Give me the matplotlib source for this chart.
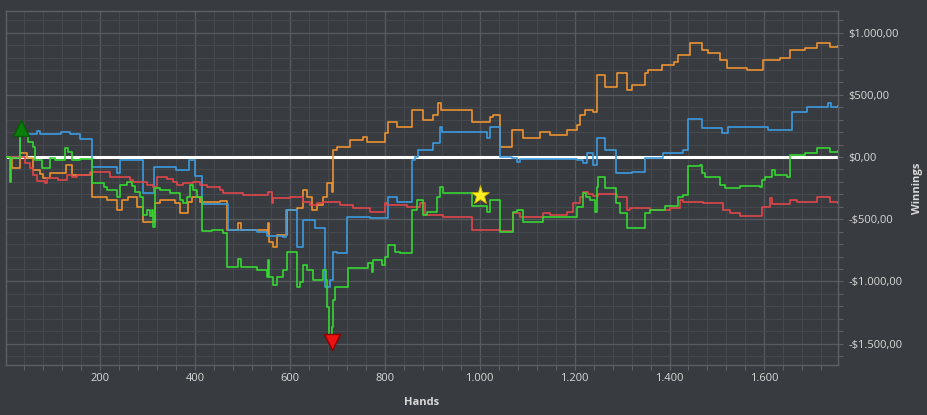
import matplotlib
matplotlib.use("Agg")
import matplotlib.pyplot as plt
from matplotlib.ticker import FuncFormatter, MultipleLocator

# =========================================
# DATA (hands, winnings)
# =========================================

blue_hands = [1, 31, 67, 74, 118, 137, 158, 183, 235, 243, 290, 313, 361, 387, 400,
              414, 468, 470, 530, 552, 585, 592, 615, 628, 653, 674, 685, 691, 699,
              720, 769, 807, 826, 858, 864, 870, 902, 917, 921, 1011, 1016, 1022,
              1043, 1068, 1079, 1085, 1205, 1218, 1226, 1239, 1247, 1264, 1287,
              1321, 1349, 1386, 1429, 1439, 1469, 1511, 1524, 1608, 1658, 1690,
              1734, 1740, 1755]
blue_win = [0, 185, 209, 185, 203, 185, 145, -80, -129, -24, -290, -80, -105, -24, -153,
            -378, -378, -587, -600, -635, -640, -426, -724, -507, -571, -1045, -989, -764,
            -772, -482, -490, -322, -362, -24, 0, 56, 113, 241, 201, 201, 153, 241,
            0, -8, -40, -16, -24, -48, 32, -64, 153, 56, -129,
            -121, -8, 32, 56, 305, 233, 193, 241, 217, 362, 402,
            434, 402, 410]

orange_hands = [1, 14, 31, 46, 58, 73, 80, 95, 128, 141, 179, 183, 215, 236, 246, 259,
                278, 291, 316, 326, 358, 368, 385, 393, 410, 453, 468, 491, 497, 552,
                554, 556, 565, 573, 594, 615, 628, 636, 647, 657, 670, 678, 689, 691,
                699, 727, 754, 763, 801, 807, 826, 858, 881, 902, 912, 919, 984, 1022,
                1028, 1043, 1068, 1091, 1127, 1148, 1184, 1205, 1212, 1222, 1239,
                1247, 1264, 1290, 1311, 1321, 1349, 1355, 1384, 1410, 1418, 1443,
                1469, 1481, 1507, 1521, 1564, 1597, 1633, 1654, 1686, 1711, 1738, 1755]
orange_win = [0, -88, 32, -8, -105, -137, -169, -129, -64, -145, -129, -322, -346, -426,
              -346, -322, -402, -523, -370, -346, -370, -450, -362, -322, -362, -354,
              -587, -531, -587, -611, -531, -683, -724, -627, -426, -410, -265, -322,
              -426, -386, -322, -209, -281, 56, 80, 137, 161, 121, 193, 281, 241, 378,
              297, 338, 434, 378, 281, 322, 338, 80, 217, 153, 201, 177, 217, 257,
              338, 378, 362, 659, 563, 675, 539, 579, 675, 699, 740, 764, 820, 917,
              860, 836, 780, 716, 699, 780, 796, 860, 876, 917, 884, 892]

green_hands = [1, 10, 12, 31, 41, 48, 58, 62, 77, 95, 105, 126, 133, 141, 158, 183, 208,
               215, 236, 242, 257, 267, 274, 284, 291, 299, 305, 310, 312, 316, 326,
               348, 369, 375, 383, 390, 396, 404, 415, 436, 459, 468, 491, 497, 531,
               552, 554, 556, 565, 573, 586, 594, 615, 622, 628, 636, 649, 670, 676,
               678, 683, 689, 691, 695, 723, 765, 773, 775, 794, 801, 807, 822, 832,
               858, 868, 881, 889, 910, 917, 923, 984, 1016, 1022, 1043, 1070, 1079,
               1091, 1133, 1169, 1205, 1218, 1224, 1232, 1243, 1247, 1249, 1264,
               1287, 1296, 1311, 1349, 1359, 1391, 1418, 1429, 1439, 1464, 1469,
               1475, 1507, 1517, 1549, 1591, 1595, 1601, 1616, 1622, 1648, 1654,
               1686, 1711, 1738, 1755]
green_win = [0, -201, -8, 185, 169, 121, 80, -24, -88, -8, -24, 72, 40, -24, -16, -209,
             -241, -265, -322, -225, -201, -233, -281, -322, -466, -426, -474, -426,
             -563, -249, -265, -289, -346, -370, -322, -225, -265, -322, -595, -587,
             -611, -884, -820, -884, -909, -965, -828, -965, -1029, -965, -909, -764,
             -1045, -1005, -868, -909, -989, -909, -989, -1206, -1447, -1367, -1150,
             -1045, -892, -852, -925, -828, -868, -804, -708, -764, -772, -426, -346,
             -466, -442, -322, -241, -289, -394, -442, -346, -603, -442, -426, -523,
             -482, -482, -402, -289, -322, -346, -442, -241, -161, -249, -370, -450,
             -571, -450, -426, -394, -322, -305, -72, -64, -129, -161, -225, -249,
             -233, -241, -185, -161, -105, -145, -161, 16, 32, 72, 40, 48]

red_hands = [1, 31, 41, 52, 58, 67, 84, 88, 111, 130, 141, 151, 179, 221, 263, 270, 299,
             312, 320, 341, 354, 362, 375, 396, 411, 425, 453, 459, 501, 554, 563, 565,
             600, 628, 642, 657, 670, 706, 733, 769, 801, 805, 847, 874, 885, 923, 984,
             1043, 1070, 1085, 1133, 1148, 1184, 1197, 1212, 1218, 1228, 1239, 1249,
             1290, 1311, 1317, 1359, 1401, 1422, 1429, 1471, 1513, 1528, 1549, 1595,
             1612, 1616, 1654, 1669, 1711, 1738, 1755]
red_win = [0, 0, -48, -88, -145, -193, -209, -169, -185, -145, -161, -145, -121, -161,
           -185, -201, -225, -241, -161, -177, -201, -225, -209, -201, -225, -241, -265,
           -289, -305, -281, -370, -330, -322, -362, -386, -370, -362, -386, -410, -442,
           -370, -386, -402, -370, -466, -482, -587, -595, -450, -482, -450, -466, -442,
           -370, -322, -281, -297, -314, -297, -322, -426, -410, -426, -410, -346, -362,
           -370, -426, -450, -474, -402, -330, -378, -346, -362, -322, -362, -370]

# markers: (hands, winnings)
best_mark = (33, 233)
worst_mark = (689, -1485)
star_mark = (1001, -306)

# =========================================
# STYLE
# =========================================

bg = "#383b3f"
grid_minor = "#45484c"
grid_major = "#56595d"
text_col = "#d9d9d9"

plt.rcParams["font.family"] = ["Open Sans", "DejaVu Sans"]

fig = plt.figure(figsize=(9.28, 4.15), dpi=100, facecolor=bg)
ax = fig.add_axes([0.0065, 0.1205, 0.8965, 0.853])
ax.set_facecolor(bg)

# =========================================
# LINES
# =========================================

ax.axhline(0, color="white", lw=2.2, zorder=2)

ax.plot(orange_hands, orange_win, drawstyle="steps-post", color="#eb922f", lw=1.2, zorder=3)
ax.plot(blue_hands, blue_win, drawstyle="steps-post", color="#3b9be0", lw=1.2, zorder=3)
ax.plot(red_hands, red_win, drawstyle="steps-post", color="#e0474a", lw=1.2, zorder=3)
ax.plot(green_hands, green_win, drawstyle="steps-post", color="#35d632", lw=1.2, zorder=4)

ax.plot(*best_mark, marker="^", ms=11, color="#0a7d0a", mec="#055a05", zorder=5)
ax.plot(*worst_mark, marker="v", ms=11, color="#ee1111", mec="#8a0000", zorder=5)
ax.plot(*star_mark, marker="*", ms=14, color="#ffee22", mec="#c8b400", mew=0.6, zorder=5)

# =========================================
# AXES
# =========================================

ax.set_xlim(2, 1755)
ax.set_ylim(-1672, 1174)

ax.xaxis.set_major_locator(MultipleLocator(200))
ax.xaxis.set_minor_locator(MultipleLocator(40))
ax.yaxis.set_major_locator(MultipleLocator(500))
ax.yaxis.set_minor_locator(MultipleLocator(100))

ax.xaxis.set_major_formatter(FuncFormatter(lambda v, p: f"{int(v):,}".replace(",", ".")))


def money(v, p):
    s = f"{abs(v):,.2f}".replace(",", "X").replace(".", ",").replace("X", ".")
    return ("-$" if v < 0 else "$") + s


ax.yaxis.set_major_formatter(FuncFormatter(money))
ax.yaxis.tick_right()
ax.yaxis.set_label_position("right")

ax.grid(which="minor", color=grid_minor, lw=0.8, zorder=0)
ax.grid(which="major", color=grid_major, lw=1.0, zorder=1)
ax.set_axisbelow(True)

for s in ax.spines.values():
    s.set_color("#5d6064")
    s.set_linewidth(1.0)

ax.tick_params(axis="both", which="both", colors="#5d6064", length=3.6, width=0.8,
               labelcolor=text_col, labelsize=8)
ax.tick_params(axis="x", which="major", pad=2.5)
ax.tick_params(axis="y", which="major", pad=4)

ax.set_xlabel("Hands", color=text_col, fontsize=8, fontweight="bold", labelpad=9)
ax.set_ylabel("Winnings", color=text_col, fontsize=8, fontweight="bold", labelpad=7)

fig.savefig("out.png", dpi=100, facecolor=bg)
